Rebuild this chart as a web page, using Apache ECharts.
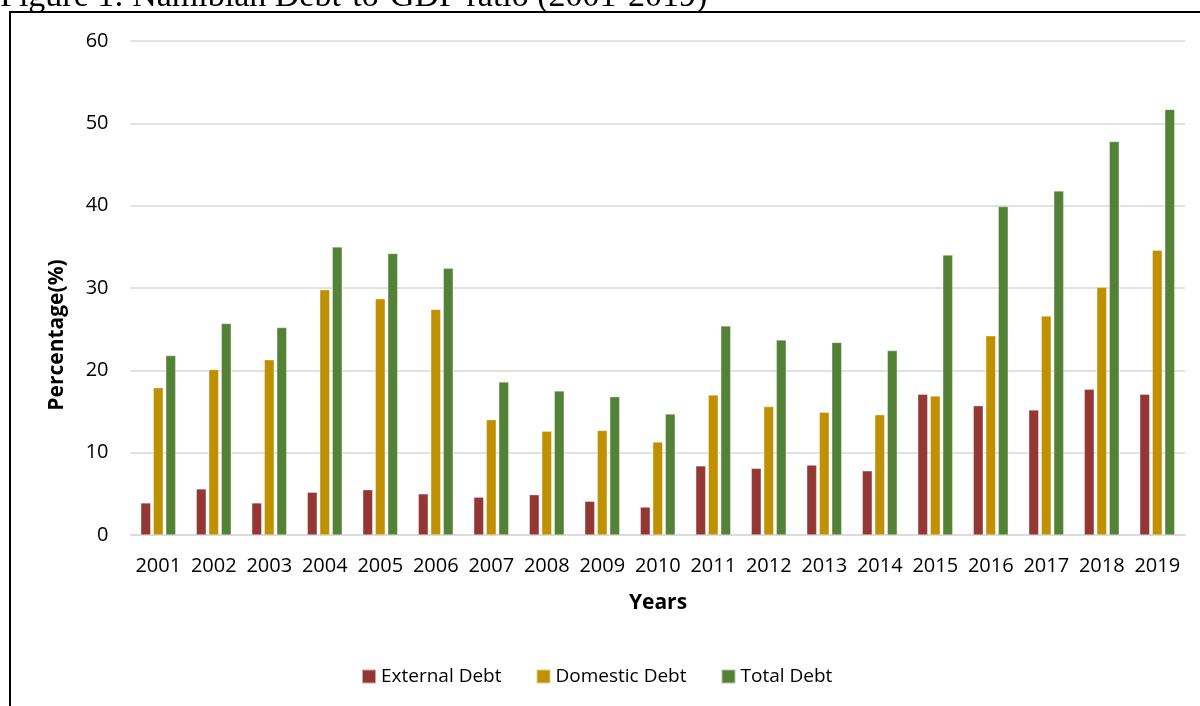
<!DOCTYPE html>
<html>
<head>
<meta charset="utf-8">
<script src="https://cdn.jsdelivr.net/npm/echarts@6/dist/echarts.min.js"></script>
<style>html,body{margin:0;padding:0;background:#fff}#c{width:1200px;height:706px}</style>
</head>
<body>
<div id="c"></div>
<script>
const years = ['2001','2002','2003','2004','2005','2006','2007','2008','2009','2010','2011','2012','2013','2014','2015','2016','2017','2018','2019'];
const externalDebt = [3.9,5.6,3.9,5.2,5.5,5.0,4.6,4.9,4.1,3.4,8.4,8.1,8.5,7.8,17.1,15.7,15.2,17.7,17.1];
const domesticDebt = [17.9,20.1,21.3,29.8,28.7,27.4,14.0,12.6,12.7,11.3,17.0,15.6,14.9,14.6,16.9,24.2,26.6,30.1,34.6];
const totalDebt = [21.8,25.7,25.2,35.0,34.2,32.4,18.6,17.5,16.8,14.7,25.4,23.7,23.4,22.4,34.0,39.9,41.8,47.8,51.7];
const seriesNames = ['External Debt','Domestic Debt','Total Debt'];
const yTicks = {min:0, max:60, interval:10};
const titleText = 'Figure 1: Namibian Debt-to-GDP ratio (2001-2019)';
const xTitle = 'Years';
const yTitle = 'Percentage(%)';

const colors = ['#943634','#BF9000','#538135'];
const font = '"Open Sans", sans-serif';
const chart = echarts.init(document.getElementById('c'));
const mk = (name, data, color) => ({
  name, type:'bar', data, barWidth:10, barGap:'25%',
  itemStyle:{color, borderColor:'rgba(255,255,255,0.55)', borderWidth:0.6}
});
chart.setOption({
  animation:false,
  color: colors,
  graphic:[
    {type:'text', z:-2, style:{x:0, y:-3, text:titleText, font:'34px "Liberation Serif", serif', fill:'#000', verticalAlign:'middle'}},
    {type:'rect', z:-1, shape:{x:10, y:12, width:1200, height:710}, style:{fill:'#fff', stroke:'#000', lineWidth:2}},
    {type:'text', x:57, y:335, rotation:Math.PI/2, style:{x:0, y:0, text:yTitle, font:'bold 21px ' + font, fill:'#000', align:'center', verticalAlign:'middle'}},
    {type:'text', style:{x:658, y:603, text:xTitle, font:'bold 21px ' + font, fill:'#000', align:'center', verticalAlign:'middle'}}
  ],
  legend:{
    data: seriesNames, left:356, top:662, icon:'rect', itemWidth:14, itemHeight:14, itemGap:34,
    textStyle:{fontFamily:font, fontSize:19, color:'#000'}
  },
  grid:{left:130.5, right:15, top:41, bottom:171, containLabel:false},
  xAxis:{
    type:'category', data:years,
    axisLine:{show:true, lineStyle:{color:'#d9d9d9', width:1.5}},
    axisTick:{show:false},
    axisLabel:{color:'#000', fontFamily:font, fontSize:20, margin:21, interval:0}
  },
  yAxis:{
    type:'value', min:yTicks.min, max:yTicks.max, interval:yTicks.interval,
    axisLine:{show:false}, axisTick:{show:false},
    splitLine:{lineStyle:{color:'#d9d9d9', width:1.5}},
    axisLabel:{color:'#000', fontFamily:font, fontSize:20, margin:22}
  },
  series:[
    mk(seriesNames[0], externalDebt, colors[0]),
    mk(seriesNames[1], domesticDebt, colors[1]),
    mk(seriesNames[2], totalDebt, colors[2])
  ]
});
</script>
</body>
</html>
